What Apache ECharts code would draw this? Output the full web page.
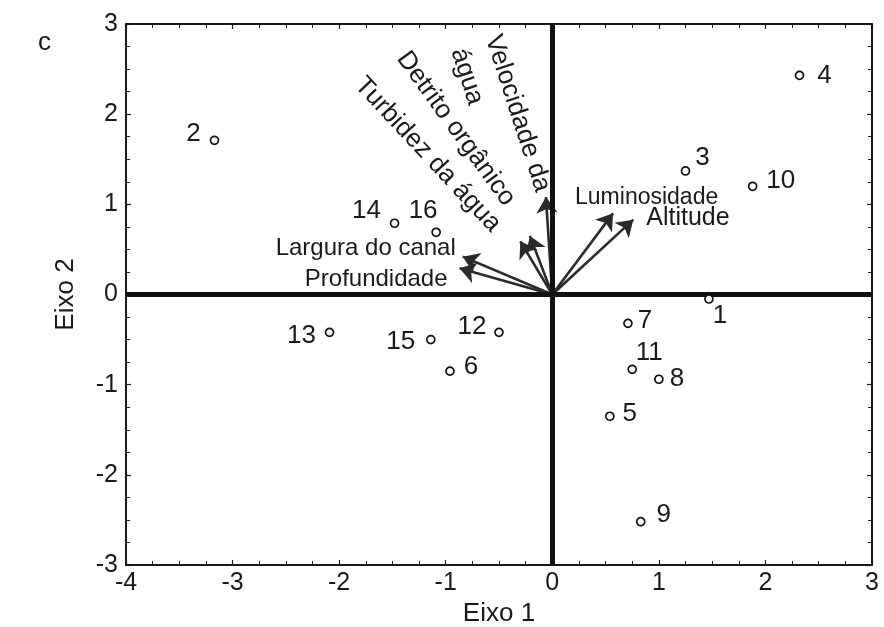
<!DOCTYPE html>
<html><head><meta charset="utf-8">
<script src="https://cdn.jsdelivr.net/npm/echarts@6/dist/echarts.min.js"></script>
<style>html,body{margin:0;padding:0;background:#fff}#c{width:884px;height:627px}</style>
</head><body><div id="c"></div>
<script>
// ---- data ----
const siteIds = ['1','2','3','4','5','6','7','8','9','10','11','12','13','14','15','16'];
const eixo1  = [1.47,-3.17,1.25,2.32,0.54,-0.96,0.71,1.00,0.83,1.88,0.75,-0.50,-2.09,-1.48,-1.14,-1.09];
const eixo2  = [-0.05,1.71,1.37,2.43,-1.35,-0.85,-0.32,-0.94,-2.52,1.20,-0.83,-0.42,-0.42,0.79,-0.50,0.69];
const varNames = ['Velocidade da água','Detrito orgânico','Turbidez da água','Largura do canal','Profundidade','Luminosidade','Altitude'];
const varEixo1 = [-0.06,-0.21,-0.30,-0.84,-0.87,0.57,0.76];
const varEixo2 = [1.08,0.65,0.59,0.42,0.29,0.90,0.83];
const xTickValues = [-4,-3,-2,-1,0,1,2,3];
const yTickValues = [-3,-2,-1,0,1,2,3];

// ---- styling (label placement in pixels) ----
const siteLabelOffsets = [[11,17],[-21,-6],[17,-13],[25,0],[20,-2],[21,-4],[17,-3],[18,0],[23,-7],[28,-5],[17,-17],[-27,-6],[-28,3],[-28,-12],[-30,2],[-13,-21]];
// each variable label: [text, dx, dy, rotationDeg, align, fontSize]
const varLabelStyle = [
  [['Velocidade da',-3,-6,-72,'right',26],['água',-70,-93,-72,'right',26]],
  [['Detrito orgânico',-20,-33,-54,'right',26]],
  [['Turbidez da água',-24,-13,-47,'right',26]],
  [['Largura do canal',-7,-8,0,'right',24]],
  [['Profundidade',-12,11,0,'right',24]],
  [['Luminosidade',-38,-16,0,'left',23]],
  [['Altitude',13,-2,0,'left',25]]
];
const FONT = 'Liberation Sans';
const TXT = '#1a1a1a';

const chart = echarts.init(document.getElementById('c'), null, {renderer:'canvas'});

const siteData = siteIds.map((id,i)=>({
  name:id, value:[eixo1[i],eixo2[i]],
  label:{offset:siteLabelOffsets[i]}
}));
const arrowData = varNames.map((n,i)=>({name:n, coords:[[0,0],[varEixo1[i],varEixo2[i]]]}));

const axisCommon = {
  interval:1,
  axisLine:{show:true,onZero:false,lineStyle:{color:'#1a1a1a',width:2}},
  axisTick:{show:true,inside:true,length:5,lineStyle:{color:'#1a1a1a',width:1.2}},
  minorTick:{show:true,splitNumber:4,length:4,lineStyle:{color:'#1a1a1a',width:1}},
  splitLine:{show:false},
  axisLabel:{fontFamily:FONT,fontSize:25,color:TXT}
};
function ax(extra){ return Object.assign({}, JSON.parse(JSON.stringify(axisCommon)), extra); }

const option = {
  animation:false,
  backgroundColor:'#fff',
  title:{text:'c',left:33,top:25,textStyle:{fontFamily:FONT,fontSize:26,fontWeight:'normal',color:TXT}},
  grid:{left:126,right:12,top:24,bottom:62,containLabel:false,outerBoundsMode:'none'},
  xAxis:[
    ax({type:'value',position:'bottom',min:xTickValues[0],max:xTickValues[xTickValues.length-1],
        name:'Eixo 1',nameLocation:'middle',nameGap:31,
        nameTextStyle:{fontFamily:FONT,fontSize:26,color:TXT},
        axisLabel:{fontFamily:FONT,fontSize:25,color:TXT,margin:6}}),
    ax({type:'value',position:'top',min:xTickValues[0],max:xTickValues[xTickValues.length-1],
        axisLabel:{show:false}})
  ],
  yAxis:[
    ax({type:'value',position:'left',min:yTickValues[0],max:yTickValues[yTickValues.length-1],
        name:'Eixo 2',nameLocation:'middle',nameGap:47,nameRotate:90,
        nameTextStyle:{fontFamily:FONT,fontSize:26,color:TXT},
        axisLabel:{fontFamily:FONT,fontSize:25,color:TXT,margin:8}}),
    ax({type:'value',position:'right',min:yTickValues[0],max:yTickValues[yTickValues.length-1],
        axisLabel:{show:false}})
  ],
  series:[
    {
      type:'scatter', xAxisIndex:0, yAxisIndex:0, z:5,
      symbol:'circle', symbolSize:8,
      itemStyle:{color:'#fff',borderColor:'#111',borderWidth:1.7,opacity:1},
      label:{show:true,position:'inside',formatter:'{b}',fontFamily:FONT,fontSize:26,color:TXT,opacity:1},
      emphasis:{disabled:true},
      data:siteData,
      markLine:{
        silent:true, symbol:['none','none'], label:{show:false},
        lineStyle:{color:'#111',width:5,type:'solid',opacity:1},
        data:[{xAxis:0},{yAxis:0}]
      }
    },
    {
      type:'lines', coordinateSystem:'cartesian2d', xAxisIndex:0, yAxisIndex:0, z:4,
      symbol:['none','arrow'], symbolSize:[14,16],
      lineStyle:{color:'#2a2a2a',width:2.6,opacity:1,curveness:0},
      data:arrowData
    }
  ]
};
chart.setOption(option);

// variable labels anchored at arrow tips via the chart's scales
const graphics = [];
varNames.forEach((n,i)=>{
  const tip = chart.convertToPixel({xAxisIndex:0,yAxisIndex:0},[varEixo1[i],varEixo2[i]]);
  varLabelStyle[i].forEach(s=>{
    graphics.push({
      type:'text', x:tip[0]+s[1], y:tip[1]+s[2], rotation:s[3]*Math.PI/180, z:10,
      style:{text:s[0],fontFamily:FONT,fontSize:s[5],fill:TXT,align:s[4],verticalAlign:'middle'}
    });
  });
});
chart.setOption({graphic:graphics});
</script>
</body></html>
